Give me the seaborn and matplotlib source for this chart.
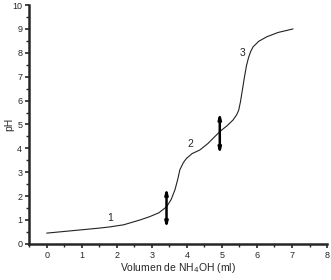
import seaborn as sns
import pandas as pd
import matplotlib.pyplot as plt

# titration curve
volume = [0.0, 0.5, 1.0, 1.5, 1.8, 2.2, 2.66, 2.94, 3.2, 3.42, 3.55, 3.66, 3.74, 3.8, 3.9, 3.99,
          4.15, 4.37, 4.6, 4.94, 5.15, 5.32, 5.42, 5.48, 5.53, 5.58, 5.64, 5.7, 5.76, 5.82, 5.89,
          6.05, 6.28, 6.6, 7.03]
ph = [0.45, 0.52, 0.59, 0.66, 0.71, 0.8, 1.0, 1.14, 1.3, 1.55, 1.85, 2.26, 2.7, 3.1, 3.4, 3.58,
      3.78, 3.93, 4.2, 4.7, 4.95, 5.19, 5.4, 5.6, 5.95, 6.4, 6.95, 7.45, 7.8, 8.05, 8.25,
      8.48, 8.67, 8.85, 9.0]

arrow_x = [3.42, 4.94]
arrow_low = [0.65, 3.75]
arrow_high = [2.35, 5.5]

label_text = ['1', '2', '3']
label_x = [1.8, 4.09, 5.6]
label_y = [1.1, 4.2, 8.0]

df = pd.DataFrame({'vol': volume, 'ph': ph})

sns.set_style('ticks')
plt.rcParams['font.family'] = ['Liberation Sans', 'DejaVu Sans']

fig = plt.figure(figsize=(3.31, 2.8), dpi=100)
ax = fig.add_axes([0.088, 0.129, 0.9, 0.853])

sns.lineplot(data=df, x='vol', y='ph', color='#222222', linewidth=0.8, ax=ax)

for x, lo, hi in zip(arrow_x, arrow_low, arrow_high):
    ax.annotate('', xy=(x, hi), xytext=(x, lo),
                arrowprops=dict(arrowstyle='<|-|>,head_length=0.3,head_width=0.08',
                                color='black', lw=1.8, shrinkA=0, shrinkB=0))

for t, x, y in zip(label_text, label_x, label_y):
    ax.text(x, y, t, fontsize=7.5, ha='center', va='center')

ax.set_xlim(-0.5, 8)
ax.set_ylim(0, 10)
ax.set_xticks(range(0, 9))
ax.set_yticks(range(0, 11))
ax.set_xticks([i + 0.5 for i in range(-1, 8)], minor=True)
ax.set_yticks([i + 0.5 for i in range(0, 10)], minor=True)
ax.tick_params(axis='both', which='major', labelsize=6.5, length=3, width=1.2, pad=2, direction='out')
ax.tick_params(axis='both', which='minor', length=2, width=1.0, direction='out')

for s in ['left', 'bottom']:
    ax.spines[s].set_linewidth(1.8)
sns.despine(ax=ax)

ax.set_xlabel('Volumen de NH$_4$OH (ml)', fontsize=7.5, labelpad=1)
ax.set_ylabel('pH', fontsize=7.5, va='center')
ax.yaxis.set_label_coords(-0.068, 0.5)

fig.savefig('out.png', dpi=100)
